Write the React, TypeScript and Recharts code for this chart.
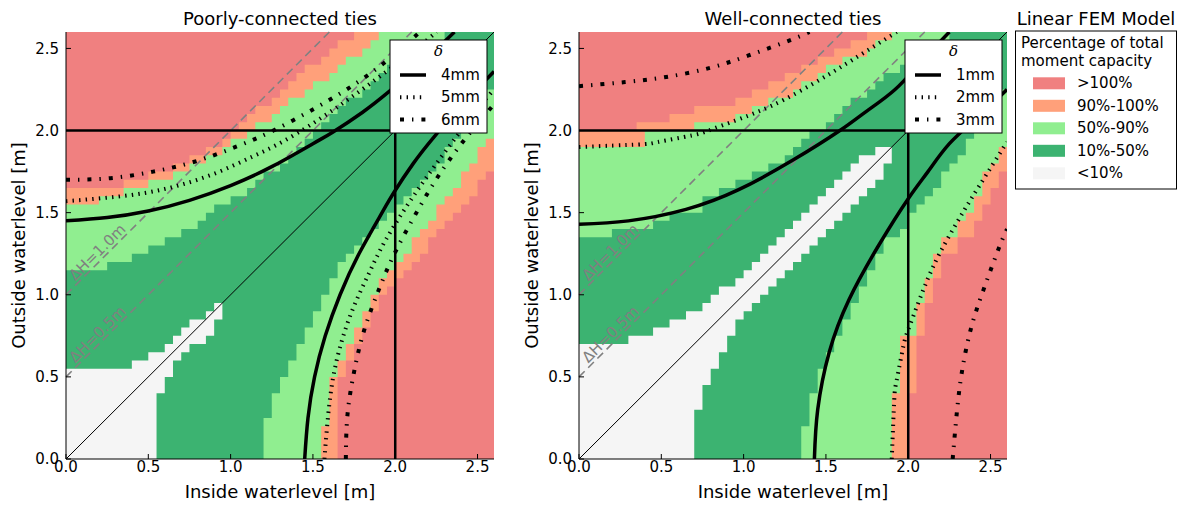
import React from "react";
import {
  ComposedChart,
  Area,
  Line,
  XAxis,
  YAxis,
  ReferenceArea,
  ReferenceLine,
  ReferenceDot,
} from "recharts";

const FONT = "'DejaVu Sans', sans-serif";
const RED = "#f08080";
const ORANGE = "#ffa07a";
const LIGHT = "#90ee90";
const DARK = "#3cb371";
const WHITE = "#f5f5f5";
const GREY = "#808080";

// FEM grid (inside / outside waterlevel), m
const gridX = [
  0, 0.05, 0.1, 0.15, 0.2, 0.25, 0.3, 0.35, 0.4, 0.45, 0.5, 0.55, 0.6, 0.65, 0.7, 0.75, 0.8, 0.85,
  0.9, 0.95, 1.0, 1.05, 1.1, 1.15, 1.2, 1.25, 1.3, 1.35, 1.4, 1.45, 1.5, 1.55, 1.6, 1.65, 1.7, 1.75,
  1.8, 1.85, 1.9, 1.95, 2.0, 2.05, 2.1, 2.15, 2.2, 2.25, 2.3, 2.35, 2.4, 2.45, 2.5, 2.55, 2.6,
];
const ticks = [0, 0.5, 1, 1.5, 2, 2.5];
const AXIS_MAX = 2.6;
const designLevel = 2.0;
const headDiffs = [1.0, 0.5];

const legendLabels = [">100%", "90%-100%", "50%-90%", "10%-50%", "<10%"];
const legendColors = [RED, ORANGE, LIGHT, DARK, WHITE];

// ---- Poorly-connected ties ----
// above the diagonal: per column, y where each band ends
const poorWhiteTop = [
  0.55, 0.55, 0.55, 0.55, 0.55, 0.55, 0.55, 0.55, 0.6, 0.6,
  0.65, 0.65, 0.7, 0.75, 0.8, 0.85, 0.85, 0.9, 0.95, 0,
  0, 0, 0, 0, 0, 0, 0, 0, 0, 0,
  0, 0, 0, 0, 0, 0, 0, 0, 0, 0,
  0, 0, 0, 0, 0, 0, 0, 0, 0, 0,
  0, 0,
];
const poorDarkTop = [
  1.15, 1.15, 1.15, 1.15, 1.15, 1.2, 1.2, 1.2, 1.25, 1.25,
  1.3, 1.3, 1.35, 1.35, 1.4, 1.4, 1.45, 1.5, 1.55, 1.55,
  1.6, 1.6, 1.65, 1.7, 1.75, 1.75, 1.8, 1.85, 1.9, 1.95,
  2.0, 2.05, 2.1, 2.15, 2.2, 2.2, 2.25, 2.3, 2.35, 2.4,
  2.4, 2.45, 2.5, 2.5, 2.55, 2.55, 2.6, 2.6, 2.6, 2.6,
  2.6, 2.6,
];
const poorLightTop = [
  1.55, 1.55, 1.55, 1.55, 1.6, 1.6, 1.6, 1.65, 1.65, 1.65,
  1.7, 1.7, 1.7, 1.75, 1.75, 1.8, 1.8, 1.85, 1.85, 1.9,
  1.95, 1.95, 2.0, 2.05, 2.05, 2.1, 2.15, 2.2, 2.2, 2.25,
  2.3, 2.3, 2.35, 2.4, 2.45, 2.45, 2.5, 2.55, 2.6, 2.6,
  2.6, 2.6, 2.6, 2.6, 2.6, 2.6, 2.6, 2.6, 2.6, 2.6,
  2.6, 2.6,
];
const poorOrangeTop = [
  1.65, 1.65, 1.65, 1.65, 1.65, 1.65, 1.65, 1.7, 1.7, 1.7,
  1.75, 1.75, 1.75, 1.8, 1.8, 1.85, 1.85, 1.9, 1.9, 1.95,
  2.0, 2.05, 2.1, 2.15, 2.15, 2.2, 2.25, 2.3, 2.35, 2.4,
  2.4, 2.45, 2.5, 2.55, 2.55, 2.6, 2.6, 2.6, 2.6, 2.6,
  2.6, 2.6, 2.6, 2.6, 2.6, 2.6, 2.6, 2.6, 2.6, 2.6,
  2.6, 2.6,
];
// below the diagonal: per row, x where each band ends
const poorWhiteEnd = [
  0.55, 0.55, 0.55, 0.55, 0.55, 0.55, 0.55, 0.55, 0.6, 0.6,
  0.65, 0.65, 0.7, 0.75, 0.85, 0.9, 0.9, 0.95, 0, 0,
  0, 0, 0, 0, 0, 0, 0, 0, 0, 0,
  0, 0, 0, 0, 0, 0, 0, 0, 0, 0,
  0, 0, 0, 0, 0, 0, 0, 0, 0, 0,
  0, 0,
];
const poorDarkEnd = [
  1.2, 1.2, 1.2, 1.2, 1.2, 1.25, 1.25, 1.25, 1.3, 1.3,
  1.35, 1.35, 1.4, 1.4, 1.45, 1.45, 1.5, 1.5, 1.55, 1.55,
  1.6, 1.6, 1.65, 1.65, 1.7, 1.75, 1.8, 1.85, 1.9, 1.95,
  2.0, 2.05, 2.1, 2.15, 2.2, 2.25, 2.3, 2.3, 2.35, 2.4,
  2.45, 2.45, 2.5, 2.55, 2.55, 2.6, 2.6, 2.6, 2.6, 2.6,
  2.6, 2.6,
];
const poorLightEnd = [
  1.55, 1.55, 1.55, 1.55, 1.6, 1.6, 1.6, 1.6, 1.6, 1.6,
  1.65, 1.65, 1.7, 1.7, 1.75, 1.75, 1.8, 1.8, 1.85, 1.85,
  1.9, 1.9, 1.95, 2.0, 2.05, 2.1, 2.1, 2.15, 2.2, 2.25,
  2.25, 2.3, 2.35, 2.4, 2.4, 2.45, 2.5, 2.5, 2.55, 2.6,
  2.6, 2.6, 2.6, 2.6, 2.6, 2.6, 2.6, 2.6, 2.6, 2.6,
  2.6, 2.6,
];
const poorOrangeEnd = [
  1.65, 1.65, 1.65, 1.65, 1.65, 1.65, 1.65, 1.65, 1.65, 1.65,
  1.7, 1.7, 1.75, 1.75, 1.8, 1.8, 1.85, 1.85, 1.9, 1.9,
  1.95, 2.0, 2.05, 2.1, 2.15, 2.2, 2.2, 2.25, 2.3, 2.35,
  2.4, 2.45, 2.5, 2.5, 2.55, 2.6, 2.6, 2.6, 2.6, 2.6,
  2.6, 2.6, 2.6, 2.6, 2.6, 2.6, 2.6, 2.6, 2.6, 2.6,
  2.6, 2.6,
];

// ---- Well-connected ties ----
const wellWhiteTop = [
  0.7, 0.7, 0.7, 0.7, 0.7, 0.7, 0.75, 0.75, 0.75, 0.8,
  0.8, 0.85, 0.85, 0.9, 0.9, 0.95, 1.0, 1.05, 1.05, 1.1,
  1.15, 1.2, 1.25, 1.3, 1.35, 1.4, 1.45, 1.5, 1.55, 1.6,
  1.65, 1.7, 1.75, 1.8, 1.85, 1.85, 1.9, 1.9, 0, 0,
  0, 0, 0, 0, 0, 0, 0, 0, 0, 0,
  0, 0,
];
const wellDarkTop = [
  1.35, 1.35, 1.35, 1.35, 1.4, 1.4, 1.4, 1.4, 1.4, 1.45,
  1.45, 1.5, 1.5, 1.5, 1.5, 1.6, 1.6, 1.65, 1.65, 1.7,
  1.7, 1.75, 1.75, 1.8, 1.8, 1.85, 1.9, 1.95, 2.0, 2.0,
  2.05, 2.1, 2.15, 2.2, 2.2, 2.25, 2.3, 2.35, 2.35, 2.4,
  2.45, 2.45, 2.5, 2.5, 2.55, 2.6, 2.6, 2.6, 2.6, 2.6,
  2.6, 2.6,
];
const wellLightTop = [
  1.9, 1.9, 1.9, 1.9, 1.9, 1.9, 1.9, 1.9, 2.0, 2.0,
  2.0, 2.0, 2.0, 2.0, 2.05, 2.05, 2.05, 2.05, 2.05, 2.1,
  2.1, 2.15, 2.15, 2.2, 2.2, 2.2, 2.25, 2.3, 2.3, 2.35,
  2.4, 2.4, 2.45, 2.45, 2.45, 2.5, 2.55, 2.55, 2.6, 2.6,
  2.6, 2.6, 2.6, 2.6, 2.6, 2.6, 2.6, 2.6, 2.6, 2.6,
  2.6, 2.6,
];
const wellOrangeTop = [
  2.0, 2.0, 2.0, 2.0, 2.0, 2.0, 2.0, 2.05, 2.05, 2.05,
  2.05, 2.1, 2.1, 2.1, 2.15, 2.15, 2.15, 2.15, 2.15, 2.2,
  2.2, 2.25, 2.25, 2.3, 2.3, 2.35, 2.35, 2.4, 2.4, 2.45,
  2.45, 2.5, 2.5, 2.55, 2.55, 2.6, 2.6, 2.6, 2.6, 2.6,
  2.6, 2.6, 2.6, 2.6, 2.6, 2.6, 2.6, 2.6, 2.6, 2.6,
  2.6, 2.6,
];
const wellWhiteEnd = [
  0.7, 0.7, 0.7, 0.7, 0.7, 0.7, 0.75, 0.75, 0.75, 0.8,
  0.8, 0.85, 0.85, 0.9, 0.9, 0.95, 0.95, 1.0, 1.05, 1.1,
  1.15, 1.2, 1.25, 1.3, 1.35, 1.4, 1.45, 1.5, 1.55, 1.6,
  1.65, 1.7, 1.75, 1.8, 1.85, 1.85, 1.9, 0, 0, 0,
  0, 0, 0, 0, 0, 0, 0, 0, 0, 0,
  0, 0,
];
const wellDarkEnd = [
  1.35, 1.35, 1.35, 1.35, 1.4, 1.4, 1.4, 1.4, 1.45, 1.45,
  1.45, 1.5, 1.5, 1.55, 1.55, 1.6, 1.6, 1.65, 1.65, 1.7,
  1.7, 1.75, 1.75, 1.8, 1.8, 1.85, 1.85, 1.95, 2.0, 2.0,
  2.05, 2.1, 2.15, 2.2, 2.2, 2.25, 2.3, 2.35, 2.35, 2.4,
  2.45, 2.45, 2.5, 2.5, 2.55, 2.6, 2.6, 2.6, 2.6, 2.6,
  2.6, 2.6,
];
const wellLightEnd = [
  1.9, 1.9, 1.9, 1.9, 1.9, 1.9, 1.9, 1.9, 1.95, 1.95,
  1.95, 1.95, 1.95, 1.95, 1.95, 2.05, 2.05, 2.05, 2.05, 2.1,
  2.1, 2.1, 2.15, 2.15, 2.15, 2.2, 2.2, 2.3, 2.3, 2.35,
  2.4, 2.4, 2.45, 2.45, 2.45, 2.5, 2.55, 2.55, 2.6, 2.6,
  2.6, 2.6, 2.6, 2.6, 2.6, 2.6, 2.6, 2.6, 2.6, 2.6,
  2.6, 2.6,
];
const wellOrangeEnd = [
  2.0, 2.0, 2.0, 2.0, 2.0, 2.0, 2.0, 2.0, 2.05, 2.05,
  2.05, 2.05, 2.05, 2.05, 2.05, 2.1, 2.1, 2.1, 2.1, 2.15,
  2.15, 2.15, 2.2, 2.2, 2.2, 2.3, 2.3, 2.4, 2.4, 2.45,
  2.45, 2.5, 2.5, 2.55, 2.55, 2.6, 2.6, 2.6, 2.6, 2.6,
  2.6, 2.6, 2.6, 2.6, 2.6, 2.6, 2.6, 2.6, 2.6, 2.6,
  2.6, 2.6,
];

// delta contours [inside, outside]
const poor4Upper = [[0, 1.45], [0.25, 1.47], [0.5, 1.51], [0.75, 1.575], [1.0, 1.665], [1.25, 1.78], [1.5, 1.92], [1.62, 1.99], [1.8, 2.11], [1.96, 2.235], [2.15, 2.4], [2.36, 2.6]];
const poor4Lower = [[1.45, 0], [1.47, 0.25], [1.51, 0.5], [1.575, 0.75], [1.665, 1.0], [1.78, 1.25], [1.92, 1.5], [1.99, 1.62], [2.11, 1.8], [2.235, 1.96], [2.4, 2.15], [2.6, 2.36]];
const poor5Upper = [[0, 1.57], [0.24, 1.59], [0.48, 1.62], [0.7, 1.67], [0.92, 1.745], [1.13, 1.84], [1.33, 1.94], [1.6, 2.11], [1.88, 2.31], [2.13, 2.5], [2.25, 2.6]];
const poor5Lower = [[1.57, 0], [1.59, 0.24], [1.62, 0.48], [1.67, 0.7], [1.745, 0.92], [1.84, 1.13], [1.94, 1.33], [2.11, 1.6], [2.31, 1.88], [2.5, 2.13], [2.6, 2.25]];
const poor6Upper = [[0, 1.7], [0.27, 1.71], [0.53, 1.75], [0.78, 1.81], [1.03, 1.9], [1.26, 2.0], [1.52, 2.14], [1.72, 2.26], [1.93, 2.41], [2.15, 2.6]];
const poor6Lower = [[1.7, 0], [1.71, 0.27], [1.75, 0.53], [1.81, 0.78], [1.9, 1.03], [2.0, 1.26], [2.14, 1.52], [2.26, 1.72], [2.41, 1.93], [2.6, 2.16]];

const well1Upper = [[0, 1.43], [0.3, 1.45], [0.65, 1.52], [0.97, 1.64], [1.3, 1.82], [1.585, 2.0], [1.75, 2.12], [1.92, 2.25], [2.08, 2.42], [2.25, 2.6]];
const well1Lower = [[1.43, 0], [1.45, 0.3], [1.52, 0.65], [1.64, 0.97], [1.82, 1.3], [2.0, 1.585], [2.12, 1.75], [2.25, 1.92], [2.42, 2.08], [2.6, 2.25]];
const well2Upper = [[0, 1.9], [0.36, 1.915], [0.48, 1.93], [0.685, 1.97], [0.787, 2.0], [0.948, 2.06], [1.1, 2.12], [1.25, 2.19], [1.43, 2.29], [1.58, 2.38], [1.74, 2.48], [1.93, 2.6]];
const well2Lower = [[1.9, 0], [1.915, 0.36], [1.93, 0.48], [1.97, 0.685], [2.0, 0.787], [2.06, 0.948], [2.12, 1.1], [2.19, 1.25], [2.29, 1.43], [2.38, 1.58], [2.48, 1.74], [2.6, 1.93]];
const well3Upper = [[0, 2.27], [0.28, 2.295], [0.53, 2.326], [0.79, 2.38], [1.03, 2.457], [1.28, 2.549], [1.4, 2.6]];
const well3Lower = [[2.27, 0], [2.295, 0.28], [2.326, 0.53], [2.38, 0.79], [2.457, 1.03], [2.549, 1.28], [2.6, 1.4]];

const STYLES: Record<string, { strokeWidth: number; strokeDasharray?: string }> = {
  solid: { strokeWidth: 3.5 },
  dotted: { strokeWidth: 4, strokeDasharray: "1.4 5.2" },
  dashdot: { strokeWidth: 4, strokeDasharray: "4 8 1.4 8" },
};

const poorCurves = [
  { label: "4mm", style: "solid", upper: poor4Upper, lower: poor4Lower },
  { label: "5mm", style: "dotted", upper: poor5Upper, lower: poor5Lower },
  { label: "6mm", style: "dashdot", upper: poor6Upper, lower: poor6Lower },
];
const wellCurves = [
  { label: "1mm", style: "solid", upper: well1Upper, lower: well1Lower },
  { label: "2mm", style: "dotted", upper: well2Upper, lower: well2Lower },
  { label: "3mm", style: "dashdot", upper: well3Upper, lower: well3Lower },
];

const poorBands = {
  whiteTop: poorWhiteTop, darkTop: poorDarkTop, lightTop: poorLightTop, orangeTop: poorOrangeTop,
  whiteEnd: poorWhiteEnd, darkEnd: poorDarkEnd, lightEnd: poorLightEnd, orangeEnd: poorOrangeEnd,
};
const wellBands = {
  whiteTop: wellWhiteTop, darkTop: wellDarkTop, lightTop: wellLightTop, orangeTop: wellOrangeTop,
  whiteEnd: wellWhiteEnd, darkEnd: wellDarkEnd, lightEnd: wellLightEnd, orangeEnd: wellOrangeEnd,
};

// bottom of a band below the diagonal in column k, from the row-wise ends
function rowBase(ends: number[], k: number) {
  let j = k - 1;
  while (j >= 0 && ends[j] > gridX[k] + 1e-6) j--;
  return gridX[j + 1];
}

function buildCells(b: typeof poorBands) {
  return gridX.map((x, i) => {
    const k = Math.min(i, gridX.length - 2);
    const diag = gridX[k];
    const up = (v: number) => Math.max(diag, v);
    return {
      x,
      orange: [rowBase(b.orangeEnd, k), up(b.orangeTop[k])],
      light: [rowBase(b.lightEnd, k), up(b.lightTop[k])],
      dark: [rowBase(b.darkEnd, k), up(b.darkTop[k])],
      white: [rowBase(b.whiteEnd, k), up(b.whiteTop[k])],
    };
  });
}

const toPts = (a: number[][]) => a.map(([x, y]) => ({ x, y }));
const fmt = (v: number) => v.toFixed(1);
const tickStyle = { fill: "#000", fontSize: 15, fontFamily: FONT };
const LABEL_X = 0.225;

function Panel({ left, bands, curves }: { left: number; bands: typeof poorBands; curves: typeof poorCurves }) {
  const cells = buildCells(bands);
  const layers: [string, string][] = [
    ["orange", ORANGE],
    ["light", LIGHT],
    ["dark", DARK],
    ["white", WHITE],
  ];
  const branches = curves.flatMap((c) => [
    { key: c.label + "u", style: c.style, pts: c.upper },
    { key: c.label + "l", style: c.style, pts: c.lower },
  ]);
  return (
    <div style={{ position: "absolute", left, top: 0 }}>
      <ComposedChart width={500} height={506} data={cells} margin={{ top: 32, right: 6, bottom: 0, left: 0 }}>
        <ReferenceArea x1={0} x2={AXIS_MAX} y1={0} y2={AXIS_MAX} fill={RED} fillOpacity={1} stroke="none" />
        {layers.map(([key, color]) => (
          <Area
            key={key}
            dataKey={key}
            type="stepAfter"
            fill={color}
            fillOpacity={1}
            stroke="none"
            dot={false}
            activeDot={false}
            isAnimationActive={false}
          />
        ))}
        {headDiffs.map((dh) => (
          <ReferenceLine
            key={"dh" + dh}
            segment={[{ x: 0, y: dh }, { x: AXIS_MAX - dh, y: AXIS_MAX }]}
            stroke={GREY}
            strokeWidth={1.6}
            strokeDasharray="8 5"
          />
        ))}
        {headDiffs.map((dh) => (
          <ReferenceDot
            key={"lab" + dh}
            x={LABEL_X}
            y={LABEL_X + dh}
            r={0}
            shape={(p: any) => (
              <text
                x={p.cx}
                y={p.cy - 3}
                transform={`rotate(-45 ${p.cx} ${p.cy})`}
                textAnchor="middle"
                fill={GREY}
                fontSize={15}
                fontFamily={FONT}
              >
                {`ΔH=${dh.toFixed(1)}m`}
              </text>
            )}
          />
        ))}
        <ReferenceLine segment={[{ x: 0, y: 0 }, { x: AXIS_MAX, y: AXIS_MAX }]} stroke="#000" strokeWidth={1} />
        {branches.map((b) => (
          <Line
            key={b.key}
            data={toPts(b.pts)}
            dataKey="y"
            type="natural"
            stroke="#000"
            {...STYLES[b.style]}
            dot={false}
            activeDot={false}
            legendType="none"
            isAnimationActive={false}
          />
        ))}
        <ReferenceLine segment={[{ x: 0, y: designLevel }, { x: designLevel, y: designLevel }]} stroke="#000" strokeWidth={2.5} />
        <ReferenceLine segment={[{ x: designLevel, y: 0 }, { x: designLevel, y: designLevel }]} stroke="#000" strokeWidth={2.5} />
        <XAxis
          dataKey="x"
          type="number"
          domain={[0, AXIS_MAX]}
          ticks={ticks}
          allowDataOverflow
          height={47}
          tickSize={-5}
          tickMargin={7}
          stroke="#000"
          tick={tickStyle}
          tickFormatter={fmt}
          label={{
            content: ({ viewBox }: any) => (
              <text x={viewBox.x + viewBox.width / 2} y={498} textAnchor="middle" fontSize={18} fontFamily={FONT} fill="#000">
                Inside waterlevel [m]
              </text>
            ),
          }}
        />
        <XAxis xAxisId="top" orientation="top" type="number" domain={[0, AXIS_MAX]} ticks={ticks} allowDataOverflow height={0} tick={false} tickSize={-5} stroke="#000" />
        <YAxis
          type="number"
          domain={[0, AXIS_MAX]}
          ticks={ticks}
          allowDataOverflow
          width={66}
          tickSize={-5}
          tickMargin={12}
          stroke="#000"
          tick={tickStyle}
          tickFormatter={fmt}
          label={{
            content: ({ viewBox }: any) => {
              const cy = viewBox.y + viewBox.height / 2;
              return (
                <text x={18} y={cy} transform={`rotate(-90 18 ${cy})`} textAnchor="middle" dominantBaseline="central" fontSize={18} fontFamily={FONT} fill="#000">
                  Outside waterlevel [m]
                </text>
              );
            },
          }}
        />
        <YAxis yAxisId="right" orientation="right" type="number" domain={[0, AXIS_MAX]} ticks={ticks} allowDataOverflow width={0} tick={false} tickSize={-5} stroke="#000" />
      </ComposedChart>
    </div>
  );
}

function DeltaLegend({ x, y, curves }: { x: number; y: number; curves: typeof poorCurves }) {
  return (
    <g>
      <rect x={x} y={y} width={97} height={93} fill="#fff" stroke="#000" strokeWidth={1} />
      <text x={x + 48.5} y={y + 11} textAnchor="middle" dominantBaseline="central" fontSize={15} fontStyle="italic" fontFamily="'DejaVu Serif', serif">
        δ
      </text>
      {curves.map((c, i) => {
        const cy = y + 35 + i * 22.3;
        return (
          <g key={c.label}>
            <line x1={x + 10} x2={x + 36} y1={cy} y2={cy} stroke="#000" {...STYLES[c.style]} />
            <text x={x + 51} y={cy} dominantBaseline="central" fontSize={15} fontFamily={FONT}>
              {c.label}
            </text>
          </g>
        );
      })}
    </g>
  );
}

export default function App() {
  return (
    <div style={{ position: "absolute", left: 0, top: 0, width: 1179, height: 506, background: "#fff", fontFamily: FONT }}>
      <Panel left={0} bands={poorBands} curves={poorCurves} />
      <Panel left={513} bands={wellBands} curves={wellCurves} />
      <svg width={1179} height={506} style={{ position: "absolute", left: 0, top: 0, pointerEvents: "none" }}>
        <text x={280} y={25} textAnchor="middle" fontSize={18} fontFamily={FONT}>
          Poorly-connected ties
        </text>
        <text x={793} y={25} textAnchor="middle" fontSize={18} fontFamily={FONT}>
          Well-connected ties
        </text>
        <DeltaLegend x={390} y={40} curves={poorCurves} />
        <DeltaLegend x={905} y={40} curves={wellCurves} />
        <text x={1096} y={25} textAnchor="middle" fontSize={18} fontFamily={FONT}>
          Linear FEM Model
        </text>
        <rect x={1015.5} y={31} width={161} height={158} fill="#fff" stroke="#000" strokeWidth={1} />
        <text x={1021} y={43} dominantBaseline="central" fontSize={15} fontFamily={FONT}>
          Percentage of total
        </text>
        <text x={1021} y={61} dominantBaseline="central" fontSize={15} fontFamily={FONT}>
          moment capacity
        </text>
        {legendLabels.map((lab, i) => {
          const cy = 83.3 + i * 22.5;
          return (
            <g key={lab}>
              <rect x={1033} y={cy - 6} width={32} height={12} fill={legendColors[i]} />
              <text x={1077} y={cy} dominantBaseline="central" fontSize={15} fontFamily={FONT}>
                {lab}
              </text>
            </g>
          );
        })}
      </svg>
    </div>
  );
}
